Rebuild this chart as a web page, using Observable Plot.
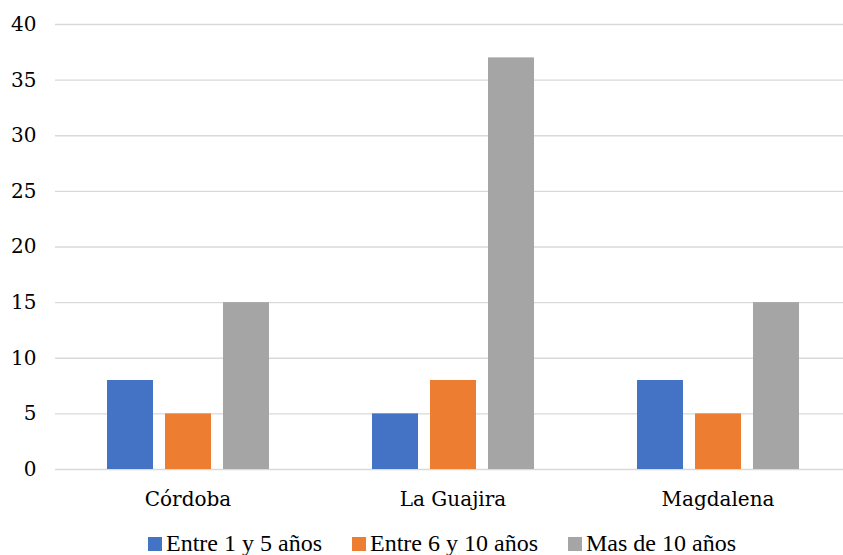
<!DOCTYPE html>
<html>
<head>
<meta charset="utf-8">
<script src="https://cdn.jsdelivr.net/npm/d3@7"></script>
<script src="https://cdn.jsdelivr.net/npm/@observablehq/plot@0.6"></script>
<style>
  html, body { margin: 0; padding: 0; background: #fff; }
  #chart { position: relative; width: 843px; height: 555px; overflow: hidden; }
  .legend { position: absolute; left: 0; top: 528px; width: 843px; height: 30px; font-family: "Tinos"; font-size: 24px; line-height: 30px; color: #000; }
  .legend span { position: absolute; top: 0; white-space: nowrap; }
  .legend i { display: inline-block; width: 14px; height: 14px; margin-right: 4px; vertical-align: baseline; }
</style>
</head>
<body>
<div id="chart"></div>
<script>
// Departamentos y rangos de años
const departamentos = ["Córdoba", "La Guajira", "Magdalena"];
const rangos = ["Entre 1 y 5 años", "Entre 6 y 10 años", "Mas de 10 años"];
const colores = ["#4472C4", "#ED7D31", "#A5A5A5"];
const entre1y5 = [8, 5, 8];
const entre6y10 = [5, 8, 5];
const mas10 = [15, 37, 15];
const yTicks = [0, 5, 10, 15, 20, 25, 30, 35, 40];

const series = [entre1y5, entre6y10, mas10];
const data = departamentos.flatMap((d, i) =>
  rangos.map((r, j) => ({departamento: d, rango: r, valor: series[j][i]}))
);

const plot = Plot.plot({
  width: 843,
  height: 515,
  marginTop: 24,
  marginBottom: 46,
  marginLeft: 53,
  marginRight: 0,
  style: {fontFamily: "DejaVu Serif", fontSize: "20px", color: "#000", background: "#fff"},
  fx: {domain: departamentos, range: [53.5, 851], padding: 0, label: null},
  x: {domain: rangos, paddingInner: 0.215, paddingOuter: 0.86, axis: null},
  y: {domain: [0, 40], ticks: yTicks, label: null},
  color: {domain: rangos, range: colores},
  marks: [
    Plot.ruleY(yTicks, {stroke: "#d9d9d9", strokeWidth: 1.3}),
    Plot.barY(data, {fx: "departamento", x: "rango", y: "valor", fill: "rango"}),
    Plot.axisY({ticks: yTicks, tickSize: 0, tickPadding: 19, label: null, fontSize: 20, fx: null}),
    Plot.axisFx({tickSize: 0, tickPadding: 22, label: null, fontSize: 20, anchor: "bottom"})
  ]
});

document.getElementById("chart").appendChild(plot);

// Leyenda debajo del gráfico
const legendLeft = [148, 352, 568];
const legend = document.createElement("div");
legend.className = "legend";
rangos.forEach((r, j) => {
  const item = document.createElement("span");
  item.style.left = legendLeft[j] + "px";
  const sw = document.createElement("i");
  sw.style.background = colores[j];
  item.appendChild(sw);
  item.appendChild(document.createTextNode(r));
  legend.appendChild(item);
});
document.getElementById("chart").appendChild(legend);
</script>
</body>
</html>
